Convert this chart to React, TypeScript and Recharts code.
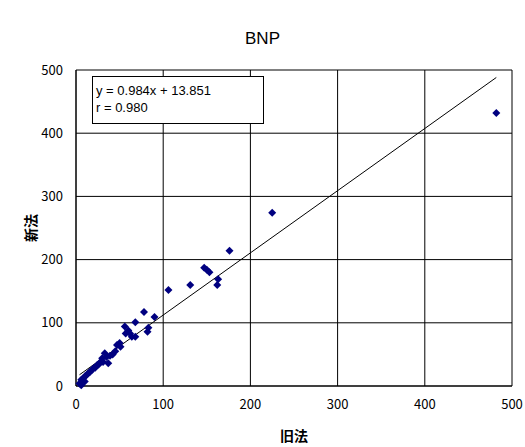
import React from 'react';
import { ScatterChart, Scatter, XAxis, YAxis, CartesianGrid, Label } from 'recharts';

const oldMethod = [4, 6, 6, 8, 10, 10, 12, 14, 16, 18, 20, 22, 24, 26, 28, 30, 31, 33, 35, 37, 39, 42, 45, 47, 50, 51, 56, 57, 60, 62, 64, 68, 68, 78, 82, 83, 90, 106, 131, 147, 150, 153, 162, 163, 176, 225, 482];
const newMethod = [4, 1, 10, 12, 7, 15, 17, 20, 22, 25, 28, 29, 33, 34, 38, 44, 38, 52, 46, 36, 48, 50, 55, 65, 68, 62, 94, 83, 88, 83, 78, 101, 78, 117, 86, 92, 109, 152, 160, 187, 184, 180, 160, 169, 214, 274, 432];
const ticks = [0, 100, 200, 300, 400, 500];
const slope = 0.984;
const intercept = 13.851;
const fitRange = [4, 482];

const points = oldMethod.map((x, i) => ({ x, y: newMethod[i] }));
const fitLine = fitRange.map((x) => ({ x, y: slope * x + intercept }));

const Diamond = (props: any) => {
  const { cx, cy } = props;
  if (cx == null || cy == null) return null;
  const r = 4;
  return <polygon points={`${cx},${cy - r} ${cx + r},${cy} ${cx},${cy + r} ${cx - r},${cy}`} fill="#000080" />;
};

const NoShape = () => null;

export default function App() {
  const tickStyle = { fontFamily: '"Noto Sans CJK JP", sans-serif', fontSize: 13, fill: '#000' };
  const labelStyle = { fontFamily: '"Noto Sans CJK JP", sans-serif', fontSize: 14, fontWeight: 'bold' as const, fill: '#000' };
  return (
    <div style={{ position: 'absolute', left: 0, top: 0, width: 525, height: 447, background: '#fff' }}>
      <div style={{ position: 'absolute', left: 0, top: 29, width: 525, textAlign: 'center', fontFamily: '"Liberation Sans", Arial, sans-serif', fontSize: 17, color: '#000' }}>BNP</div>
      <ScatterChart width={525} height={447} margin={{ top: 70, right: 13, bottom: 0, left: 0 }}>
        <CartesianGrid stroke="#000" strokeWidth={1} fill="none" />
        <XAxis type="number" dataKey="x" domain={[0, 500]} ticks={ticks} height={61} axisLine={{ stroke: '#000' }} tickLine={false} tickSize={0} tickMargin={14} tick={tickStyle} interval={0}>
          <Label value="旧法" position="insideBottom" offset={6} style={labelStyle} />
        </XAxis>
        <YAxis type="number" dataKey="y" domain={[0, 500]} ticks={ticks} width={76} axisLine={{ stroke: '#000' }} tickLine={false} tickSize={0} tickMargin={13} tick={tickStyle} interval={0}>
          <Label value="新法" angle={-90} position="insideLeft" offset={31} style={{ ...labelStyle, textAnchor: 'middle' }} />
        </YAxis>
        <Scatter data={fitLine} line={{ stroke: '#000', strokeWidth: 1 }} shape={NoShape} isAnimationActive={false} />
        <Scatter data={points} shape={Diamond} isAnimationActive={false} />
      </ScatterChart>
      <div style={{ position: 'absolute', left: 92, top: 76, width: 172, height: 48, border: '1px solid #000', background: '#fff', fontFamily: '"Liberation Sans", Arial, sans-serif', fontSize: 13, lineHeight: '17px', color: '#000', padding: '5px 0 0 3px', boxSizing: 'border-box' }}>
        <div>y = 0.984x + 13.851</div>
        <div>r = 0.980</div>
      </div>
    </div>
  );
}
